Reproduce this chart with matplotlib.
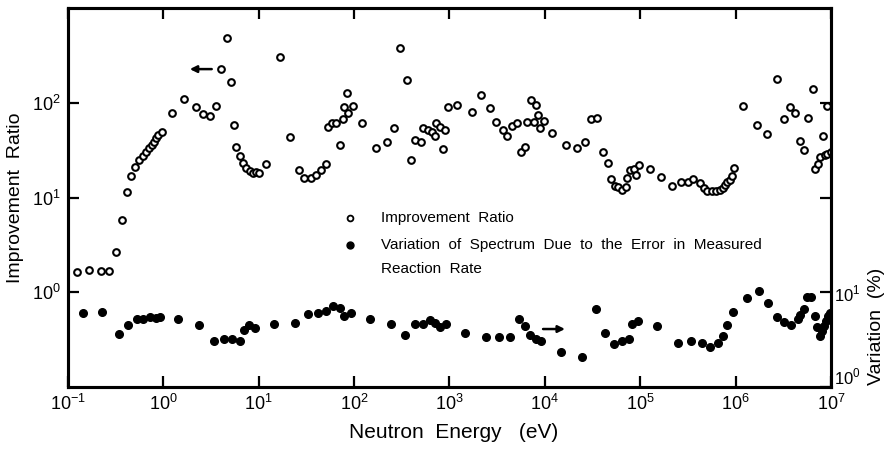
import numpy as np
import matplotlib
matplotlib.use("Agg")
import matplotlib.pyplot as plt

plt.rcParams['font.family'] = ['Liberation Sans', 'DejaVu Sans']
plt.rcParams['mathtext.fontset'] = 'custom'
plt.rcParams['mathtext.rm'] = 'Liberation Sans'

# improvement ratio (open circles, left axis)
energy_ratio = [
    0.124, 0.166, 0.22, 0.267, 0.318, 0.371, 0.412, 0.457, 0.504, 0.558,
    0.615, 0.662, 0.70, 0.754, 0.796, 0.843, 0.885, 0.975, 1.22, 1.64,
    2.18, 2.58, 3.10, 3.56, 4.05, 4.65, 5.07, 5.5, 5.73, 6.4,
    6.83, 7.34, 8.09, 8.76, 9.42, 10.0, 12.0, 16.8, 21.2, 26.6,
    29.8, 35.3, 39.5, 44.5, 50.6, 53.1, 58.0, 64.4, 71, 75.7,
    77.6, 84.7, 86.7, 96.3, 122, 171, 219, 261, 300, 361,
    394, 434, 498, 530, 594, 654, 709, 726, 794, 847,
    896, 955, 1205, 1718, 2118, 2630, 3063, 3654, 3963, 4537,
    5085, 5560, 6166, 6427, 7079, 7603, 8110, 8510, 8790, 9840,
    11940, 16730, 21830, 26250, 30340, 35070, 40550, 46450, 49540, 54200,
    58210, 64120, 70150, 72930, 78340, 86300, 89950, 95970, 1.27e5, 1.656e5,
    2.128e5, 2.643e5, 3.178e5, 3.587e5, 4.248e5, 4.677e5, 5.07e5, 5.635e5, 6.21e5, 6.82e5,
    7.34e5, 7.83e5, 8.22e5, 8.76e5, 9.12e5, 9.64e5, 1.19e6, 1.68e6, 2.14e6, 2.72e6,
    3.18e6, 3.73e6, 4.21e6, 4.75e6, 5.19e6, 5.76e6, 6.40e6, 6.76e6, 7.28e6, 7.64e6,
    8.15e6, 8.55e6, 9.19e6, 9.13e6, 9.96e6,
]
improvement_ratio = [
    1.65, 1.72, 1.67, 1.69, 2.68, 5.86, 11.5, 16.9, 21.2, 24.9,
    27.7, 30.0, 33.3, 35.5, 38.8, 42.4, 46.0, 49.1, 78.5, 111,
    90, 75.4, 71.8, 93, 230, 487, 165, 58.2, 33.9, 27.2,
    23.4, 20.7, 18.9, 18.3, 18.6, 18.3, 22.4, 303, 43.5, 19.6,
    16.1, 16.0, 17.3, 19.6, 22.6, 55.5, 61.5, 61.5, 36.1, 67.3,
    89.3, 126, 77.8, 93, 60.5, 33.3, 38.5, 54.0, 377, 173,
    25.1, 40.1, 38.2, 53.7, 51.6, 48.8, 44.6, 60.5, 55.9, 32.2,
    52.0, 89.3, 93.8, 80.4, 122, 88.5, 63.5, 51.1, 44.6, 56.3,
    60.5, 30.3, 33.9, 62.1, 106, 62.6, 93.8, 74.8, 54.6, 64.7,
    48.0, 36.1, 33.6, 38.5, 67.9, 69.1, 30.0, 23.2, 15.7, 13.2,
    13.0, 12.1, 12.8, 16.1, 19.7, 20.2, 17.3, 21.9, 20.1, 16.5,
    13.4, 14.5, 14.7, 15.8, 14.3, 12.6, 11.6, 11.6, 11.6, 12.0,
    12.7, 13.7, 14.6, 15.4, 16.9, 20.5, 93, 58.2, 46.4, 177,
    67.3, 89.3, 79.0, 39.5, 32.0, 69.5, 139, 20.0, 22.8, 27.0,
    44.2, 28.4, 91.5, 28.8, 30.0,
]

# variation of spectrum (filled circles, right axis, %)
energy_var = [
    0.1435, 0.227, 0.343, 0.426, 0.525, 0.616, 0.724, 0.83, 0.92, 1.42,
    2.36, 3.37, 4.28, 5.24, 6.35, 6.95, 7.95, 9.18, 14.3, 23.9,
    32.5, 42.0, 50.6, 60.4, 71, 78.2, 92.5, 145, 243, 341,
    437, 530, 623, 703, 793, 916, 1440, 2405, 3296, 4295,
    5335, 6220, 7015, 8050, 9080, 14820, 24600, 34500, 42560, 53300,
    63700, 76550, 81700, 93700, 1.482e5, 2.478e5, 3.418e5, 4.427e5, 5.335e5, 6.46e5,
    7.34e5, 8.09e5, 9.29e5, 1.315e6, 1.743e6, 2.183e6, 2.735e6, 3.214e6, 3.776e6, 4.469e6,
    4.69e6, 5.24e6, 5.594e6, 6.16e6, 6.788e6, 7.126e6, 7.638e6, 8.014e6, 8.407e6, 8.822e6,
    9.33e6, 9.72e6,
]
variation = [
    6.04, 6.15, 3.59, 4.53, 5.24, 5.2, 5.44, 5.4, 5.44, 5.27,
    4.53, 3.03, 3.24, 3.18, 3.03, 3.96, 4.46, 4.22, 4.64, 4.72,
    5.94, 6.04, 6.38, 7.1, 6.81, 5.62, 6.09, 5.27, 4.57, 3.51,
    4.64, 4.64, 5.14, 4.79, 4.32, 4.67, 3.71, 3.37, 3.4, 3.37,
    5.24, 4.43, 3.51, 3.24, 3.03, 2.35, 2.09, 6.7, 3.68, 2.85,
    3.06, 3.21, 4.61, 5.02, 4.43, 2.89, 3.09, 2.89, 2.63, 2.93,
    3.42, 4.53, 6.15, 8.73, 10.4, 7.68, 5.53, 4.83, 4.5, 5.2,
    5.71, 6.7, 8.87, 8.87, 5.62, 4.25, 3.46, 3.93, 4.43, 4.99,
    5.62, 6.09,
]

fig = plt.figure(figsize=(8.9, 4.5), dpi=100)
ax = fig.add_axes([0.0764, 0.14, 0.8573, 0.842])

ax.plot(energy_ratio, improvement_ratio, 'o', mfc='white', mec='black',
        mew=1.5, ms=4.8, ls='none')

ax.set_xscale('log')
ax.set_yscale('log')
ax.set_xlim(1e-1, 1e7)
ax.set_ylim(1e-1, 1e3)

ax2 = ax.twinx()
ax2.plot(energy_var, variation, 'o', color='black', ms=5.5, ls='none')
ax2.set_yscale('log')
ax2.set_ylim(1, 1e4)

# ticks
xt = [10.0 ** k for k in range(-1, 8)]
ax.set_xticks(xt)
ax.set_xticklabels(['$10^{%d}$' % k for k in range(-1, 8)])
ax.set_yticks([1, 10, 100])
ax.set_yticklabels(['$10^{0}$', '$10^{1}$', '$10^{2}$'])
ax2.set_yticks([1, 10, 100, 1000])
ax2.set_yticklabels(['$10^{0}$', '$10^{1}$', '', ''])
ax.minorticks_off()
ax2.minorticks_off()
ax.xaxis.set_ticks_position('both')
ax.tick_params(axis='both', which='major', direction='in', length=8, width=1.6,
               labelsize=13, pad=5)
ax.tick_params(axis='x', top=True, labeltop=False)
ax2.tick_params(axis='y', which='major', direction='in', length=8, width=1.6,
                labelsize=12, pad=2)
# the bottom right label sits a bit above the corner, as in the original
ax2.get_yticklabels()[0].set_verticalalignment('bottom')

for a in (ax, ax2):
    for s in a.spines.values():
        s.set_linewidth(2.2)

ax.set_xlabel('Neutron  Energy   (eV)', fontsize=15)
ax.xaxis.set_label_coords(0.505, -0.095)
ax.set_ylabel('Improvement  Ratio', fontsize=14)
ax.yaxis.set_label_coords(-0.058, 0.5)
ax2.set_ylabel('Variation  (%)', fontsize=14)
ax2.yaxis.set_label_coords(1.048, 0.16)

# legend drawn by hand
ax.plot([0.3696], [0.446], 'o', mfc='white', mec='black', mew=1.3, ms=4.2,
        transform=ax.transAxes, clip_on=False)
ax.plot([0.3696], [0.3747], 'o', color='black', ms=5, transform=ax.transAxes,
        clip_on=False)
ax.text(0.41, 0.446, 'Improvement  Ratio', transform=ax.transAxes,
        fontsize=11, va='center')
ax.text(0.41, 0.3747, 'Variation  of  Spectrum  Due  to  the  Error  in  Measured',
        transform=ax.transAxes, fontsize=11, va='center')
ax.text(0.41, 0.311, 'Reaction  Rate', transform=ax.transAxes,
        fontsize=11, va='center')

# arrows pointing to the axis each series belongs to
ax.annotate('', xy=(0.156, 0.839), xytext=(0.192, 0.839), xycoords='axes fraction',
            arrowprops=dict(arrowstyle='-|>', color='black', lw=1.8,
                            mutation_scale=10))
ax.annotate('', xy=(0.655, 0.153), xytext=(0.619, 0.153), xycoords='axes fraction',
            arrowprops=dict(arrowstyle='-|>', color='black', lw=1.8,
                            mutation_scale=10))

fig.savefig('out.png', dpi=100)
